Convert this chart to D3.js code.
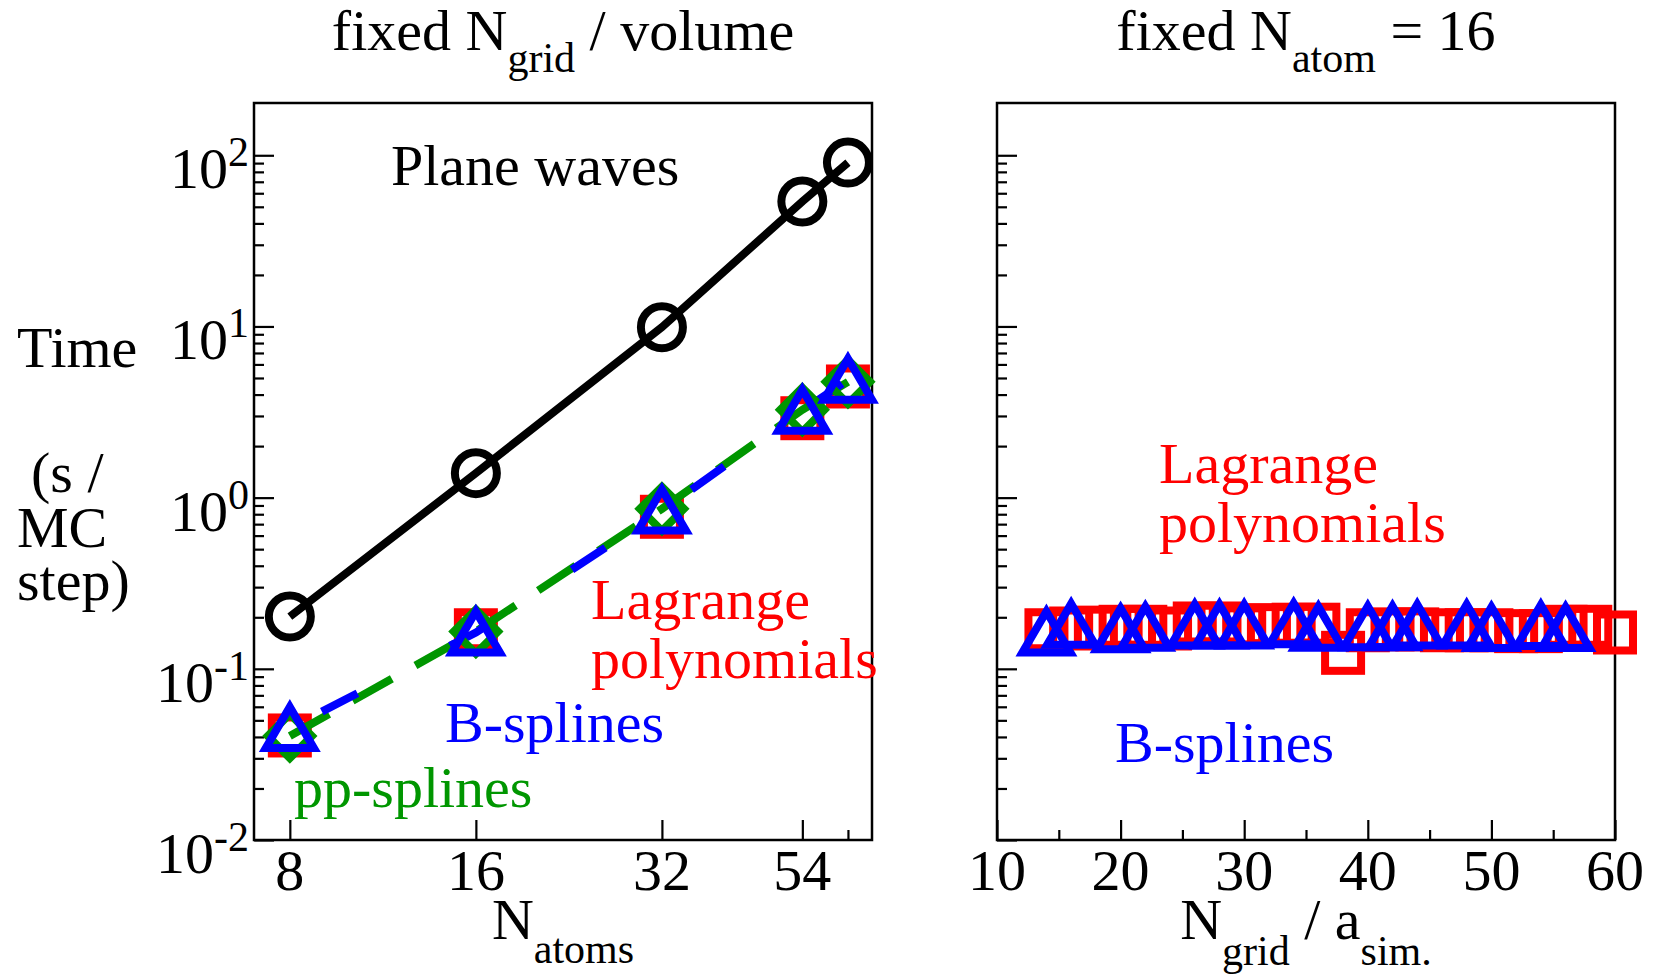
<!DOCTYPE html>
<html>
<head>
<meta charset="utf-8">
<script src="https://cdn.jsdelivr.net/npm/d3@7"></script>
<style>
  body { margin: 0; background: #fff; }
  text { font-family: "Liberation Serif", "Times New Roman", serif; }
</style>
</head>
<body>
<div id="chart"></div>
<script>
// ---- data ----
const atoms = [8, 16, 32, 54, 64];
const planeWaves = [0.202, 1.39, 9.9, 53.7, 90.6];
const lagrangeAtoms = [0.0408, 0.168, 0.773, 2.91, 4.46];
const bsplineAtoms = [0.0451, 0.163, 0.84, 3.22, 4.88];
const ppsplineAtoms = [0.0405, 0.165, 0.86, 3.26, 4.75];

const gridLagrange = [14, 16, 18, 20, 22, 24, 26, 28, 30, 32, 34, 36, 38, 40, 42, 44, 46, 48, 50, 52, 54, 56, 58, 60];
const lagrangeGrid = [0.168, 0.172, 0.174, 0.176, 0.176, 0.172, 0.184, 0.184, 0.177, 0.180, 0.181, 0.181,
                      0.124, 0.168, 0.170, 0.170, 0.168, 0.168, 0.168, 0.166, 0.166, 0.176, 0.176, 0.163];
const gridBspline = [14, 16, 20, 22, 26, 28, 30, 34, 36, 40, 42, 44, 48, 50, 54, 56];
const bsplineGrid = [0.163, 0.181, 0.170, 0.174, 0.179, 0.179, 0.179, 0.182, 0.174, 0.175, 0.175, 0.179, 0.179, 0.173, 0.178, 0.173];

const yMajor = [0.01, 0.1, 1, 10, 100];
const yExp = ["-2", "-1", "0", "1", "2"];
const atomTicks = [8, 16, 32, 54];
const atomMinor = [64];
const gridTicks = [10, 20, 30, 40, 50, 60];
const gridMinor = [15, 25, 35, 45, 55];

const RED = "#ff0000", BLUE = "#0000ff", GREEN = "#009600";

// ---- layout ----
const W = 1657, H = 974;
const yTop = 103, yBot = 840;
const left1 = 254, right1 = 872, left2 = 997, right2 = 1615;
const FS = 58, SUB = 42;

const svg = d3.select("#chart").append("svg")
  .attr("width", W).attr("height", H);

const y = d3.scaleLog().domain([0.01, 202]).range([yBot, yTop]);
const x1 = d3.scaleLog().base(2).domain([7, 70]).range([left1, right1]);
const x2 = d3.scaleLinear().domain([10, 60]).range([left2, right2]);

const yMinor = [];
yMajor.slice(0, 4).forEach(d => { for (let k = 2; k <= 9; k++) yMinor.push(d * k); });

function drawAxes(x, xl, xr, majors, minors) {
  const g = svg.append("g");
  // y ticks (inward)
  g.append("g").attr("transform", `translate(${xl},0)`)
    .call(d3.axisLeft(y).tickValues(yMajor).tickSize(-20).tickFormat(""));
  g.append("g").attr("transform", `translate(${xl},0)`)
    .call(d3.axisLeft(y).tickValues(yMinor).tickSize(-10).tickFormat(""));
  // x ticks (inward)
  g.append("g").attr("transform", `translate(0,${yBot})`)
    .call(d3.axisBottom(x).tickValues(majors).tickSize(-20).tickFormat(""));
  g.append("g").attr("transform", `translate(0,${yBot})`)
    .call(d3.axisBottom(x).tickValues(minors).tickSize(-10).tickFormat(""));
  g.selectAll(".domain").remove();
  g.selectAll(".tick line").attr("stroke", "#000").attr("stroke-width", 2.2);
  // frame
  g.append("rect")
    .attr("x", xl).attr("y", yTop)
    .attr("width", xr - xl).attr("height", yBot - yTop)
    .attr("fill", "none").attr("stroke", "#000").attr("stroke-width", 2.5);
  // x tick labels
  g.selectAll(".xl").data(majors).join("text")
    .attr("x", d => x(d)).attr("y", yBot + 50)
    .attr("text-anchor", "middle").attr("font-size", FS)
    .text(d => d);
}

drawAxes(x1, left1, right1, atomTicks, atomMinor);
drawAxes(x2, left2, right2, gridTicks, gridMinor);

// y tick labels on left panel only
const yl = svg.selectAll(".ylab").data(yMajor).join("text")
  .attr("x", left1 - 5).attr("y", d => y(d) + 33)
  .attr("text-anchor", "end").attr("font-size", FS);
yl.append("tspan").text("10");
yl.append("tspan").attr("dy", -22).attr("font-size", SUB).text((d, i) => yExp[i]);

// ---- markers ----
function squares(g, xs, ys, x, color) {
  g.selectAll(null).data(xs).join("rect")
    .attr("x", d => x(d) - 18).attr("y", (d, i) => y(ys[i]) - 18)
    .attr("width", 36).attr("height", 36)
    .attr("fill", "none").attr("stroke", color).attr("stroke-width", 8);
}
function triangles(g, xs, ys, x, color) {
  g.selectAll(null).data(xs).join("path")
    .attr("d", (d, i) => {
      const cx = x(d), cy = y(ys[i]);
      return `M${cx},${cy - 21}L${cx + 24},${cy + 20}L${cx - 24},${cy + 20}Z`;
    })
    .attr("fill", "none").attr("stroke", color).attr("stroke-width", 8)
    .attr("stroke-linejoin", "miter");
}
function diamonds(g, xs, ys, x, color) {
  g.selectAll(null).data(xs).join("path")
    .attr("d", (d, i) => {
      const cx = x(d), cy = y(ys[i]);
      return `M${cx},${cy - 22}L${cx + 22},${cy}L${cx},${cy + 22}L${cx - 22},${cy}Z`;
    })
    .attr("fill", "none").attr("stroke", color).attr("stroke-width", 8);
}
function line(g, xs, ys, x, color, dash, offset) {
  const gen = d3.line().x(d => x(d[0])).y(d => y(d[1]));
  g.append("path")
    .datum(xs.map((d, i) => [d, ys[i]]))
    .attr("d", gen)
    .attr("fill", "none").attr("stroke", color).attr("stroke-width", 8)
    .attr("stroke-dasharray", dash).attr("stroke-dashoffset", offset || 0);
}

// left panel
const p1 = svg.append("g");
squares(p1, atoms, lagrangeAtoms, x1, RED);
line(p1, atoms, ppsplineAtoms, x1, GREEN, "45 27", 0);
line(p1, atoms, bsplineAtoms, x1, BLUE, "40 104", -36);
diamonds(p1, atoms, ppsplineAtoms, x1, GREEN);
triangles(p1, atoms, bsplineAtoms, x1, BLUE);
line(p1, atoms, planeWaves, x1, "#000", null, 0);
p1.selectAll(null).data(atoms).join("circle")
  .attr("cx", d => x1(d)).attr("cy", (d, i) => y(planeWaves[i]))
  .attr("r", 21).attr("fill", "none").attr("stroke", "#000").attr("stroke-width", 8);

// right panel
const p2 = svg.append("g");
squares(p2, gridLagrange, lagrangeGrid, x2, RED);
triangles(p2, gridBspline, bsplineGrid, x2, BLUE);

// ---- text ----
function label(x, yy, txt, color) {
  svg.append("text").attr("x", x).attr("y", yy)
    .attr("font-size", FS).attr("fill", color).text(txt);
}
label(391, 185, "Plane waves", "#000");
label(591, 619, "Lagrange", RED);
label(591, 678, "polynomials", RED);
label(445, 742, "B-splines", BLUE);
label(294, 807, "pp-splines", GREEN);
label(1159, 483, "Lagrange", RED);
label(1159, 542, "polynomials", RED);
label(1115, 762, "B-splines", BLUE);

// y-axis title
label(17, 367, "Time", "#000");
label(31, 492, "(s /", "#000");
label(17, 547, "MC", "#000");
label(17, 600, "step)", "#000");

// titles and x titles with sub/superscripts
function rich(cx, yy, parts) {
  const t = svg.append("text").attr("x", cx).attr("y", yy)
    .attr("text-anchor", "middle").attr("font-size", FS)
    .attr("xml:space", "preserve");
  parts.forEach(p => {
    t.append("tspan").attr("dy", p.dy || 0)
      .attr("font-size", p.sub ? SUB : FS).text(p.t);
  });
}
rich(563, 50, [{t: "fixed N"}, {t: "grid", sub: true, dy: 22}, {t: " / volume", dy: -22}]);
rich(1306, 50, [{t: "fixed N"}, {t: "atom", sub: true, dy: 22}, {t: " = 16", dy: -22}]);
rich(563, 939, [{t: "N"}, {t: "atoms", sub: true, dy: 24}]);
rich(1306, 939, [{t: "N"}, {t: "grid", sub: true, dy: 26}, {t: " / a", dy: -26}, {t: "sim.", sub: true, dy: 26}]);
</script>
</body>
</html>
